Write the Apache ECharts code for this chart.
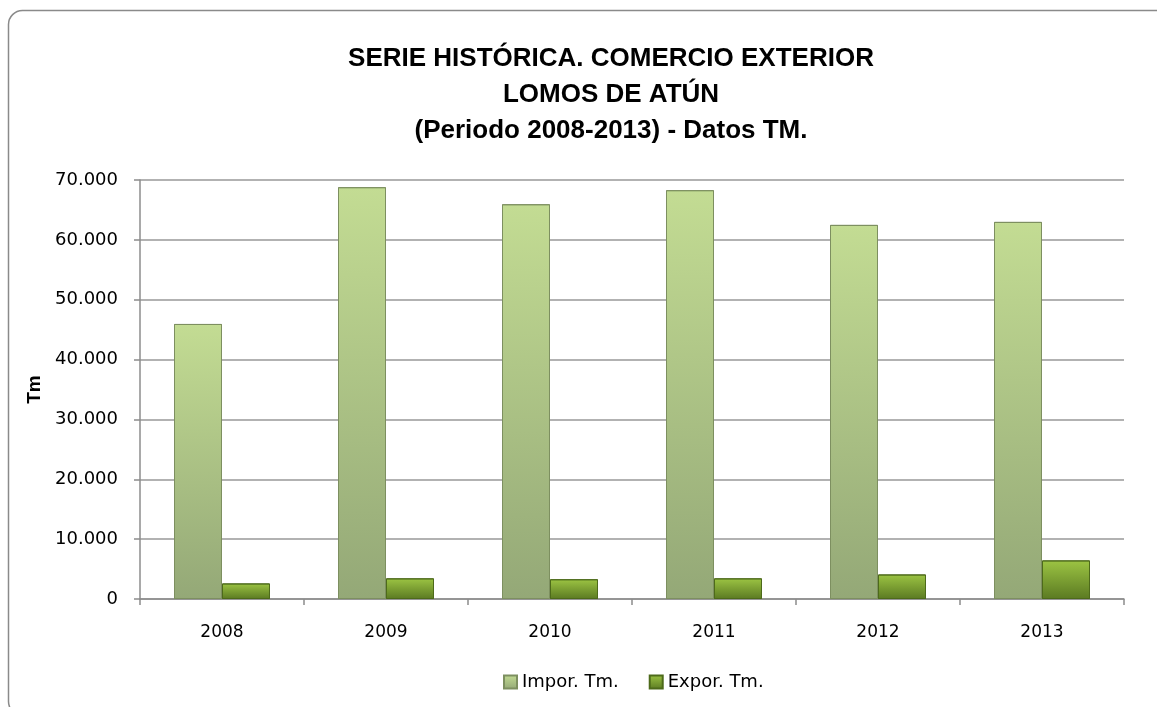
<!DOCTYPE html>
<html>
<head>
<meta charset="utf-8">
<script src="https://cdn.jsdelivr.net/npm/echarts@6/dist/echarts.min.js"></script>
<style>
html,body{margin:0;padding:0;background:#fff;}
#c{width:1157px;height:707px;}
</style>
</head>
<body>
<div id="c"></div>
<script>
const categories = ['2008','2009','2010','2011','2012','2013'];
const imporTm = [45950, 68800, 65950, 68300, 62500, 63000];
const exporTm = [2600, 3450, 3300, 3450, 4100, 6450];
const seriesNames = ['Impor. Tm.', 'Expor. Tm.'];
const titleLines = ['SERIE HISTÓRICA. COMERCIO EXTERIOR', 'LOMOS DE ATÚN', '(Periodo 2008-2013) - Datos TM.'];
const yAxisName = 'Tm';

const chart = echarts.init(document.getElementById('c'));
const fmt = v => v === 0 ? '0' : String(v).replace(/\B(?=(\d{3})+(?!\d))/g, '.');
const grad = (a, b) => new echarts.graphic.LinearGradient(0, 0, 0, 1, [{offset: 0, color: a}, {offset: 1, color: b}]);

chart.setOption({
  backgroundColor: '#fff',
  graphic: [{
    type: 'rect', left: 6, top: 8,
    shape: {width: 1165, height: 705, r: 14},
    style: {fill: 'none', stroke: '#8a8a8a', lineWidth: 1.5},
    silent: true
  }],
  title: {
    text: titleLines.join('\n'),
    left: 606, textAlign: 'center', top: 36,
    textStyle: {fontFamily: 'Liberation Sans', fontWeight: 'bold', fontSize: 26, lineHeight: 36, color: '#000'}
  },
  grid: {left: 140, right: 33, top: 180, bottom: 108, containLabel: false},
  legend: {
    bottom: 11, left: 498,
    icon: 'rect',
    itemWidth: 13, itemHeight: 13, itemGap: 30,
    textStyle: {fontFamily: 'DejaVu Sans', fontSize: 18, color: '#000'},
    data: seriesNames
  },
  xAxis: {
    type: 'category', data: categories,
    axisLine: {lineStyle: {color: '#8c8c8c', width: 1.5}},
    axisTick: {show: true, length: 6, lineStyle: {color: '#8c8c8c', width: 1.5}},
    axisLabel: {fontFamily: 'DejaVu Sans', fontSize: 17, color: '#000', margin: 25}
  },
  yAxis: {
    type: 'value', min: 0, max: 70000, interval: 10000,
    name: yAxisName, nameLocation: 'middle', nameGap: 96,
    nameTextStyle: {fontFamily: 'Liberation Sans', fontWeight: 'bold', fontSize: 19, color: '#000'},
    axisLine: {show: true, lineStyle: {color: '#8c8c8c', width: 1.5}},
    axisTick: {show: true, length: 6, lineStyle: {color: '#8c8c8c', width: 1.5}},
    splitLine: {lineStyle: {color: '#999', width: 1.5}},
    axisLabel: {fontFamily: 'DejaVu Sans', fontSize: 18, color: '#000', margin: 22, formatter: fmt}
  },
  series: [
    {
      name: seriesNames[0], type: 'bar', data: imporTm,
      barWidth: 48, barGap: '0%',
      itemStyle: {color: grad('#c3dc93', '#94a877'), borderColor: '#7d8f60', borderWidth: 1}
    },
    {
      name: seriesNames[1], type: 'bar', data: exporTm,
      barWidth: 48,
      itemStyle: {color: grad('#9cc443', '#5b7a22'), borderColor: '#4d6a1a', borderWidth: 1}
    }
  ]
});
</script>
</body>
</html>
